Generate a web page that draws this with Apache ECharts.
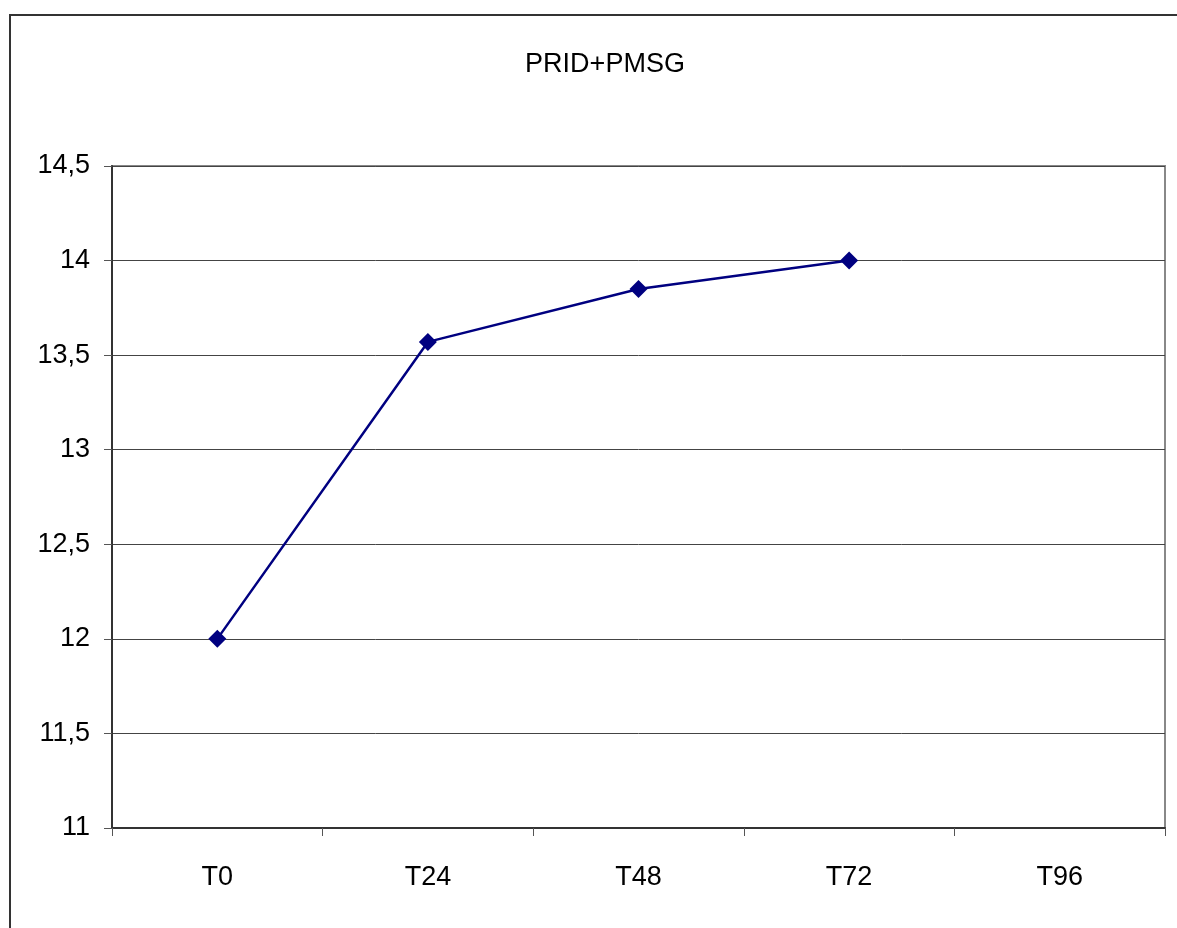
<!DOCTYPE html>
<html>
<head>
<meta charset="utf-8">
<script src="https://cdn.jsdelivr.net/npm/echarts@6/dist/echarts.min.js"></script>
<style>
  html, body { margin: 0; padding: 0; background: #fff; }
  #chart { width: 1177px; height: 928px; }
</style>
</head>
<body>
<div id="chart"></div>
<script>
// Time points and measured values (T96 not measured)
const categories = ['T0', 'T24', 'T48', 'T72', 'T96'];
const values = [12.0, 13.57, 13.85, 14.0, null];
const chartTitle = 'PRID+PMSG';

const FONT = '"Liberation Sans", Arial, sans-serif';

const chart = echarts.init(document.getElementById('chart'), null, { renderer: 'canvas' });

chart.setOption({
  backgroundColor: '#fff',
  animation: false,
  title: {
    text: chartTitle,
    left: 600,
    top: 46,
    textAlign: 'center',
    textStyle: { fontFamily: FONT, fontSize: 27, fontWeight: 'normal', color: '#000' }
  },
  graphic: [{
    type: 'rect',
    shape: { x: 10, y: 15, width: 1200, height: 960 },
    style: { fill: 'none', stroke: '#333', lineWidth: 2 },
    silent: true
  }],
  grid: {
    left: 112, top: 166, width: 1053, height: 662,
    show: true, borderColor: '#888', borderWidth: 2, backgroundColor: 'transparent'
  },
  xAxis: {
    type: 'category',
    data: categories,
    boundaryGap: true,
    axisLine: { show: true, lineStyle: { color: '#333', width: 2 } },
    axisTick: { show: true, length: 8, inside: false, alignWithLabel: false, lineStyle: { color: '#555', width: 1 } },
    axisLabel: { margin: 36, fontFamily: FONT, fontSize: 27, color: '#000' },
    splitLine: { show: false }
  },
  yAxis: {
    type: 'value',
    min: 11, max: 14.5, interval: 0.5,
    axisLine: { show: true, lineStyle: { color: '#333', width: 2 } },
    axisTick: { show: true, length: 8, lineStyle: { color: '#555', width: 1 } },
    axisLabel: {
      margin: 22, fontFamily: FONT, fontSize: 27, color: '#000',
      formatter: v => String(v).replace('.', ',')
    },
    splitLine: { show: true, lineStyle: { color: '#444', width: 1 } }
  },
  series: [{
    type: 'line',
    data: values,
    connectNulls: false,
    symbol: 'diamond',
    symbolSize: 18,
    itemStyle: { color: '#000080' },
    lineStyle: { color: '#000080', width: 2.5 }
  }]
});
</script>
</body>
</html>
